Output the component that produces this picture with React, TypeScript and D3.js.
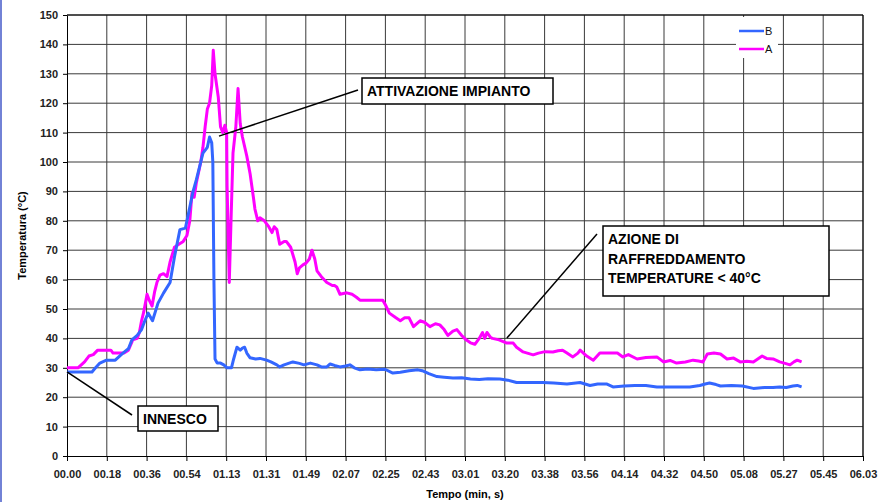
import * as d3 from 'd3';
import React, { useEffect, useRef } from 'react';

// time in seconds, temperature in °C
const seriesA: [number, number][] = [
  [0, 30], [5, 30], [8, 32], [10, 34], [12, 34.5], [14, 36], [20, 36], [21, 35], [26, 35], [28, 36],
  [30, 39.5], [32, 40], [33, 42], [34, 46], [35, 49], [36.5, 55], [37.5, 53], [38.8, 51], [40, 56], [41, 59],
  [42.4, 61.5], [44, 62], [45.6, 61], [47, 66], [49, 71], [51, 72], [53, 73], [54.7, 75], [56, 80], [57, 89.5],
  [58, 88], [59, 93], [61, 100], [62, 105], [63, 112], [64, 118], [65, 120], [66, 126], [66.7, 138], [67.5, 130],
  [69, 122], [70, 112], [71, 110], [72, 112.5], [72.8, 110], [73, 92], [74, 59], [74.8, 80], [75.7, 103], [77, 112],
  [78, 125], [79, 113], [80, 108.5], [82, 102], [83.5, 96], [85, 88], [85.7, 84], [87, 80], [88, 81], [90, 80],
  [92, 78], [93.5, 76], [94.5, 78], [95.7, 77], [97, 72], [99, 73], [100, 73], [102, 71], [104, 66], [105, 62],
  [106, 64], [107.6, 65], [109, 65.6], [110.5, 67], [111.7, 70], [113, 67], [114, 63], [116, 61], [118.5, 59], [121, 58],
  [122, 58], [123, 57.5], [124.5, 55], [127.6, 55.5], [130, 55], [132, 54], [133.6, 53], [138, 53], [144, 53], [145.5, 51],
  [147, 48.6], [150, 47], [152, 46], [154, 47], [156, 47], [158, 44], [161, 46], [163, 45.5], [165.5, 44], [168, 45],
  [170, 44.6], [172, 43], [173.7, 41], [176, 42.5], [177.8, 43], [180, 41], [182, 39.5], [184, 38.5], [186, 38], [188, 40],
  [189.5, 42], [190.5, 40], [191.5, 42], [193, 40.5], [194, 40], [197, 39.5], [200.6, 38.4], [203.5, 38.4], [205, 37], [208, 35.4],
  [212.6, 34.4], [215, 35], [218, 35.5], [221.6, 35.4], [224, 35.8], [226, 36], [228, 35], [230.7, 33.7], [233, 35], [234, 36],
  [237, 34], [240, 32.6], [243, 35], [247, 35], [251, 35], [253.5, 33.7], [256, 34.5], [260, 33], [264, 33.5], [269, 33.7],
  [272, 32], [275, 32.5], [278, 31.6], [282, 32], [285.5, 32.6], [288, 32.3], [290, 32], [292, 34.7], [295, 35], [298, 34.7],
  [301, 33], [304, 33.3], [307, 32], [310, 32.2], [313, 32], [315, 33], [317, 34], [319, 33.2], [322, 33], [325, 32],
  [327.5, 31.5], [329.7, 31], [331.5, 32], [333, 32.6], [335, 32],
];

const seriesB: [number, number][] = [
  [0, 28.6], [5, 28.6], [8, 28.6], [11.4, 28.6], [13, 30], [15, 31.6], [18, 32.6], [22, 32.6], [24, 34], [25.5, 35],
  [28, 36.5], [29.6, 39.5], [32, 41], [34, 43], [35.5, 46], [37, 48.6], [39, 46], [41.5, 52], [44, 55.4], [47, 59],
  [49, 67.7], [51.5, 77], [54, 77.5], [56, 84.7], [57.5, 90], [59, 94], [61, 100], [62, 103], [64, 105], [65, 108.5],
  [66, 106.5], [66.5, 100], [67, 60], [67.5, 33], [68.5, 31.6], [70, 31.6], [71.5, 31], [73, 30], [75, 30], [76, 33],
  [77.5, 37], [79, 36], [80, 36.7], [81, 37], [82, 35], [83.5, 33.4], [86, 33], [88, 33.2], [91, 32.6], [93, 32],
  [95.7, 31], [97, 30.3], [99, 31], [101, 31.5], [103, 32], [106, 31.5], [108, 31], [111, 31.6], [114, 31], [116, 30.3],
  [118.5, 30.3], [120, 31.3], [122, 30.8], [124.5, 30.3], [127, 30.6], [129, 31], [131, 30], [133.6, 29.3], [137, 29.6], [141, 29.3],
  [145, 29.5], [148.6, 28.2], [152, 28.5], [156, 29], [160, 29.3], [162, 29], [165, 28], [168.7, 27], [172, 26.8], [176, 26.5],
  [180, 26.6], [184, 26.2], [188, 26], [192, 26.3], [197.4, 26.2], [201, 25.8], [205, 25], [210, 25], [217, 25], [222, 24.8],
  [228, 24.5], [234, 25], [238.5, 24], [242, 24.5], [246, 24.5], [249, 23.5], [254, 23.8], [259, 24], [264, 24], [269, 23.5],
  [273.6, 23.5], [279, 23.5], [284, 23.5], [288.6, 24], [291, 24.5], [293, 24.8], [296, 24.3], [298, 23.8], [303, 24], [308, 23.8],
  [313, 23], [318, 23.3], [322, 23.3], [325, 23.5], [328, 23.3], [331, 23.8], [333, 24], [335, 23.5],
];

const xTickLabels = [
  '00.00', '00.18', '00.36', '00.54', '01.13', '01.31', '01.49', '02.07', '02.25', '02.43', '03.01',
  '03.20', '03.38', '03.56', '04.14', '04.32', '04.50', '05.08', '05.27', '05.45', '06.03',
];
const yTicks = [0, 10, 20, 30, 40, 50, 60, 70, 80, 90, 100, 110, 120, 130, 140, 150];
const totalSeconds = 363;

const legendItems = [
  { name: 'B', color: '#3366ff' },
  { name: 'A', color: '#ff00ff' },
];

const font = '"Liberation Sans", Arial, sans-serif';

const W = 889;
const H = 502;
const left = 67;
const right = 863;
const top = 15;
const bottom = 456;

const Chart = () => {
  const svgRef = useRef(null);

  useEffect(() => {
    const svg = d3.select(svgRef.current);
    svg.selectAll('*').remove();

    const x = d3.scaleLinear().domain([0, totalSeconds]).range([left, right]);
    const y = d3.scaleLinear().domain([0, 150]).range([bottom, top]);
    const xTickValues = xTickLabels.map((_, i) => (i * totalSeconds) / (xTickLabels.length - 1));

    svg.append('rect').attr('width', W).attr('height', H).attr('fill', '#fff');
    svg.append('rect').attr('x', 0).attr('y', 0).attr('width', 2).attr('height', H).attr('fill', '#7282d6');

    // grid
    const grid = svg.append('g').attr('stroke', '#3a3a3a').attr('stroke-width', 1);
    grid
      .selectAll('line.h')
      .data(yTicks.slice(1))
      .enter()
      .append('line')
      .attr('x1', left)
      .attr('x2', right)
      .attr('y1', (d) => y(d))
      .attr('y2', (d) => y(d));
    grid
      .selectAll('line.v')
      .data(xTickValues.slice(1))
      .enter()
      .append('line')
      .attr('x1', (d) => x(d))
      .attr('x2', (d) => x(d))
      .attr('y1', top)
      .attr('y2', bottom);

    // axes
    const yAxis = svg
      .append('g')
      .attr('transform', `translate(${left},0)`)
      .call(d3.axisLeft(y).tickValues(yTicks).tickSizeInner(4).tickSizeOuter(0).tickPadding(5));
    const xAxis = svg
      .append('g')
      .attr('transform', `translate(0,${bottom})`)
      .call(
        d3
          .axisBottom(x)
          .tickValues(xTickValues)
          .tickFormat((_, i) => xTickLabels[i])
          .tickSizeInner(5)
          .tickSizeOuter(0)
          .tickPadding(9)
      );
    [xAxis, yAxis].forEach((a) => {
      a.select('.domain').attr('stroke', '#000');
      a.selectAll('.tick line').attr('stroke', '#000');
      a.selectAll('text')
        .attr('font-family', font)
        .attr('font-size', 11)
        .attr('font-weight', 'bold')
        .attr('fill', '#222');
    });

    // lines
    const line = d3
      .line<[number, number]>()
      .x((d) => x(d[0]))
      .y((d) => y(d[1]));
    svg
      .append('path')
      .datum(seriesA)
      .attr('d', line)
      .attr('fill', 'none')
      .attr('stroke', '#ff00ff')
      .attr('stroke-width', 3)
      .attr('stroke-linejoin', 'round');
    svg
      .append('path')
      .datum(seriesB)
      .attr('d', line)
      .attr('fill', 'none')
      .attr('stroke', '#3366ff')
      .attr('stroke-width', 3)
      .attr('stroke-linejoin', 'round');

    // legend
    const lg = svg.append('g');
    lg.append('rect').attr('x', 736).attr('y', 17).attr('width', 42).attr('height', 41).attr('fill', '#fff');
    legendItems.forEach((item, i) => {
      const ly = 31 + i * 18;
      lg.append('line')
        .attr('x1', 739)
        .attr('x2', 764)
        .attr('y1', ly)
        .attr('y2', ly)
        .attr('stroke', item.color)
        .attr('stroke-width', 2.5);
      lg.append('text')
        .attr('x', 765)
        .attr('y', ly + 4)
        .attr('font-family', font)
        .attr('font-size', 11)
        .attr('fill', '#111')
        .text(item.name);
    });

    // border
    svg
      .append('path')
      .attr('d', `M${left},${top}H${right}V${bottom}`)
      .attr('fill', 'none')
      .attr('stroke', '#000');

    // annotations
    const notes = [
      { at: [0, 28.6], to: [132, 415], box: [138, 406, 80, 25], lines: ['INNESCO'] },
      { at: [69.3, 108.8], to: [358, 90], box: [362, 78, 191, 26], lines: ['ATTIVAZIONE IMPIANTO'] },
      {
        at: [200.6, 40.1],
        to: [597, 234],
        box: [603, 226, 226, 70],
        lines: ['AZIONE DI', 'RAFFREDDAMENTO', 'TEMPERATURE < 40°C'],
      },
    ];
    notes.forEach((n) => {
      svg
        .append('line')
        .attr('x1', x(n.at[0]))
        .attr('y1', y(n.at[1]))
        .attr('x2', n.to[0])
        .attr('y2', n.to[1])
        .attr('stroke', '#000')
        .attr('stroke-width', 1.5);
      const [bx, by, bw, bh] = n.box;
      svg
        .append('rect')
        .attr('x', bx)
        .attr('y', by)
        .attr('width', bw)
        .attr('height', bh)
        .attr('fill', '#fff')
        .attr('stroke', '#000')
        .attr('stroke-width', 1.5);
      n.lines.forEach((t, i) => {
        svg
          .append('text')
          .attr('x', bx + 5)
          .attr('y', by + 18 + i * 19.5)
          .attr('font-family', font)
          .attr('font-size', 14)
          .attr('font-weight', 'bold')
          .attr('fill', '#000')
          .text(t);
      });
    });

    // axis titles
    svg
      .append('text')
      .attr('transform', `translate(26,${(top + bottom) / 2}) rotate(-90)`)
      .attr('text-anchor', 'middle')
      .attr('font-family', font)
      .attr('font-size', 11)
      .attr('font-weight', 'bold')
      .text('Temperatura (°C)');
    svg
      .append('text')
      .attr('x', 465)
      .attr('y', 498)
      .attr('text-anchor', 'middle')
      .attr('font-family', font)
      .attr('font-size', 11)
      .attr('font-weight', 'bold')
      .text('Tempo (min, s)');
  }, []);

  return <svg ref={svgRef} width={W} height={H} style={{ display: 'block' }} />;
};

const App = () => (
  <div style={{ position: 'fixed', left: 0, top: 0 }}>
    <Chart />
  </div>
);

export default App;
